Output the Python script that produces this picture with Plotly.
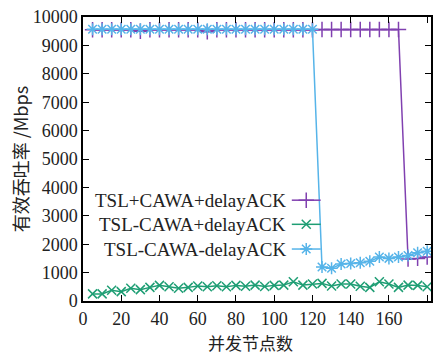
import plotly.graph_objects as go

nodes = list(range(5, 181, 5))
tsl_cawa_delay = [9550, 9550, 9550, 9550, 9550, 9500, 9550, 9550, 9550, 9550, 9550, 9550,
                  9480, 9550, 9550, 9550, 9550, 9550, 9550, 9550, 9550, 9550, 9550, 9550,
                  9560, 9560, 9560, 9560, 9560, 9560, 9560, 9560, 9560, 1480, 1500, 1550]
tsl_nocawa_delay = [250, 250, 380, 330, 450, 400, 480, 550, 500, 450, 480, 530,
                    500, 540, 500, 550, 520, 560, 510, 550, 560, 680, 560, 600,
                    620, 530, 600, 600, 520, 480, 680, 600, 480, 560, 550, 500]
tsl_nocawa_nodelay = [9570, 9570, 9570, 9570, 9570, 9570, 9570, 9570, 9570, 9570, 9570, 9570,
                      9570, 9570, 9570, 9570, 9570, 9570, 9570, 9570, 9570, 9570, 9570, 9570,
                      1200, 1150, 1300, 1320, 1350, 1400, 1550, 1500, 1550, 1600, 1700, 1750]

names = ["TSL+CAWA+delayACK", "TSL-CAWA+delayACK", "TSL-CAWA-delayACK"]
series = [tsl_cawa_delay, tsl_nocawa_delay, tsl_nocawa_nodelay]
colors = ["#8040B0", "#1E9E74", "#56B4E9"]
symbols = ["cross-thin", "x-thin", "asterisk"]
sizes = [11, 9, 10]

x_ticks = list(range(0, 181, 20))
y_ticks = list(range(0, 10001, 1000))
y_tick_labels = [str(v) for v in y_ticks]

serif = "Liberation Serif"
cjk = "Noto Sans CJK SC"

fig = go.Figure()
for name, ys, c, s, sz in zip(names, series, colors, symbols, sizes):
    fig.add_trace(go.Scatter(
        x=nodes, y=ys, mode="lines+markers", name=name,
        line=dict(color=c, width=1.5),
        marker=dict(symbol=s, size=sz, color=c, line=dict(color=c, width=1.5)),
        showlegend=False))

# custom legend (text on the left, sample on the right), on a hidden overlay axis
leg_y = [0.355, 0.27, 0.183]
for name, c, s, sz, ly in zip(names, colors, symbols, sizes, leg_y):
    fig.add_trace(go.Scatter(
        x=[0.6, 0.683], y=[ly, ly], mode="lines", xaxis="x2", yaxis="y2",
        line=dict(color=c, width=1.5), showlegend=False, hoverinfo="skip"))
    fig.add_trace(go.Scatter(
        x=[0.6415], y=[ly], mode="markers", xaxis="x2", yaxis="y2",
        marker=dict(symbol=s, size=sz, color=c, line=dict(color=c, width=1.5)),
        showlegend=False, hoverinfo="skip"))
    fig.add_annotation(text=name, xref="x2", yref="y2", x=0.59, y=ly,
                       xanchor="right", yanchor="middle", showarrow=False,
                       font=dict(family=serif, size=19, color="#222"))

axis_common = dict(showline=True, linecolor="black", linewidth=1.5, mirror="ticks",
                   ticks="inside", ticklen=6, tickwidth=1.2, tickcolor="black",
                   showgrid=False, zeroline=False,
                   tickfont=dict(family=serif, size=18, color="#222"))

fig.update_layout(
    width=440, height=355,
    margin=dict(l=83, r=7, t=13, b=54),
    paper_bgcolor="white", plot_bgcolor="white",
    xaxis=dict(range=[0, 182], tickvals=x_ticks, ticklabelstandoff=1, **axis_common),
    yaxis=dict(range=[0, 10000], tickvals=y_ticks, ticktext=y_tick_labels, **axis_common),
    xaxis2=dict(range=[0, 1], overlaying="x", visible=False, fixedrange=True),
    yaxis2=dict(range=[0, 1], overlaying="y", visible=False, fixedrange=True),
    showlegend=False,
)

fig.add_annotation(text="并发节点数", xref="paper", yref="paper", x=0.48, y=0,
                   yshift=-41, xanchor="center", yanchor="middle", showarrow=False,
                   font=dict(family=cjk, size=17, color="#222"))
fig.add_annotation(text="有效吞吐率 /Mbps", xref="paper", yref="paper", x=-0.18, y=0.5,
                   xanchor="center", yanchor="middle", textangle=-90, showarrow=False,
                   font=dict(family=cjk + ", " + serif, size=18, color="#222"))

fig.write_html("out.html", config={"displayModeBar": False},
               post_script="document.body.style.margin='0';document.body.style.overflow='hidden';")
